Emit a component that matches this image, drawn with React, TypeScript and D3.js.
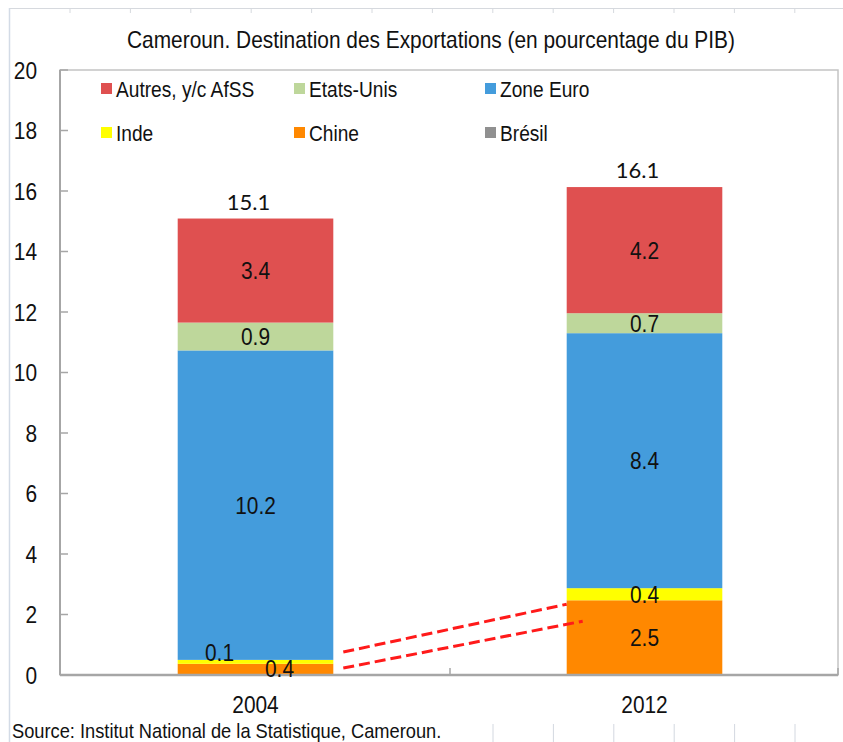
import React from "react";
import * as d3 from "d3";

const years = ["2004", "2012"];
const seriesKeys = ["Brésil", "Chine", "Inde", "Zone Euro", "Etats-Unis", "Autres, y/c AfSS"];
const bresil = [0, 0];
const chine = [0.37, 2.47];
const inde = [0.13, 0.4];
const zoneEuro = [10.23, 8.43];
const etatsUnis = [0.92, 0.66];
const autres = [3.44, 4.17];
const totalLabels = ["15.1", "16.1"];
const yTicks = [0, 2, 4, 6, 8, 10, 12, 14, 16, 18, 20];
const legendRows = [
  ["Autres, y/c AfSS", "Etats-Unis", "Zone Euro"],
  ["Inde", "Chine", "Brésil"],
];
const colors: Record<string, string> = {
  "Autres, y/c AfSS": "#DF5050",
  "Etats-Unis": "#BED79B",
  "Zone Euro": "#449CDC",
  Inde: "#FFFF00",
  Chine: "#FF8800",
  "Brésil": "#909090",
};
// dashed annotation lines: [value at 2004 side, value at 2012 side]
const arrowLines = [
  [0.76, 2.34],
  [0.23, 1.78],
];

const W = 843;
const H = 742;
const FONT = "'Liberation Sans', Arial, sans-serif";
const SX = 0.87;

function NText({
  x,
  y,
  size,
  anchor = "start",
  dy,
  children,
}: {
  x: number;
  y: number;
  size: number;
  anchor?: string;
  dy?: string;
  children: React.ReactNode;
}) {
  return (
    <text
      transform={`translate(${x},${y}) scale(${SX},1)`}
      x={0}
      y={0}
      dy={dy}
      textAnchor={anchor as any}
      fontFamily={FONT}
      fontSize={size}
      fill="#111"
    >
      {children}
    </text>
  );
}

export default function App() {
  const left = 60;
  const right = 838;
  const top = 70;
  const bottom = 675;

  const x = d3.scaleBand<string>().domain(years).range([left + 1, right + 1]).paddingInner(0.6).paddingOuter(0.3);
  const y = d3.scaleLinear().domain([0, 20]).range([bottom, top]);

  const table = years.map((yr, i) => ({
    year: yr,
    "Brésil": bresil[i],
    Chine: chine[i],
    Inde: inde[i],
    "Zone Euro": zoneEuro[i],
    "Etats-Unis": etatsUnis[i],
    "Autres, y/c AfSS": autres[i],
  }));
  const stacked = d3.stack<any>().keys(seriesKeys)(table);

  const labelOffset = (key: string, yr: string): [number, number] => {
    if (yr === "2004" && key === "Inde") return [-36, -9];
    if (yr === "2004" && key === "Chine") return [24, -1];
    return [0, 0];
  };

  const topDecoTicks = d3.range(13).map((i) => 70 + i * 60.4);
  const bottomDeco = d3.range(6).map((i) => 493 + i * 60.4);
  const legendX = [101, 294, 485];
  const legendY = [89, 133];

  const bw = x.bandwidth();

  return (
    <svg width={W} height={H} style={{ position: "absolute", left: 0, top: 0, background: "#fff" }}>
      <rect x={0} y={0} width={W} height={H} fill="#fff" />
      {/* decorative page borders */}
      <line x1={10} x2={W} y1={8.5} y2={8.5} stroke="#D6D9DE" strokeWidth={1} />
      <line x1={9.5} x2={9.5} y1={8} y2={H} stroke="#D3DBE6" strokeWidth={1.5} />
      {topDecoTicks.map((t, i) => (
        <line key={i} x1={t} x2={t} y1={8} y2={13} stroke="#D6D9DE" />
      ))}
      {bottomDeco.map((t, i) => (
        <line key={i} x1={t} x2={t} y1={724} y2={H} stroke="#D3D8E0" />
      ))}

      {/* title */}
      <NText x={431} y={48} size={24} anchor="middle">
        Cameroun. Destination des Exportations (en pourcentage du PIB)
      </NText>

      {/* plot frame */}
      <rect x={left} y={top} width={right - left} height={bottom - top} fill="none" stroke="#C4C4C4" strokeWidth={1.5} />

      {/* bars */}
      {stacked.map((s) =>
        s.map((d, i) => {
          const yr = years[i];
          const h = y(d[0]) - y(d[1]);
          if (h <= 0) return null;
          return <rect key={s.key + yr} x={x(yr)} y={y(d[1])} width={bw} height={h} fill={colors[s.key]} />;
        })
      )}

      {/* axes */}
      <line x1={left} x2={left} y1={top} y2={bottom} stroke="#A6A6A6" strokeWidth={2} />
      <line x1={left} x2={right} y1={bottom} y2={bottom} stroke="#A6A6A6" strokeWidth={2.5} />
      {yTicks.map((t) => (
        <g key={t}>
          <line x1={left} x2={left + 8} y1={y(t)} y2={y(t)} stroke="#A6A6A6" strokeWidth={1.5} />
          <NText x={37} y={y(t)} dy="0.36em" size={24} anchor="end">
            {t}
          </NText>
        </g>
      ))}
      {[left, (x("2004")! + x("2012")! + bw) / 2, right].map((t, i) => (
        <line key={i} x1={t} x2={t} y1={bottom} y2={bottom - 7} stroke="#A6A6A6" strokeWidth={1.5} />
      ))}
      {years.map((yr) => (
        <NText key={yr} x={x(yr)! + bw / 2} y={713} size={24} anchor="middle">
          {yr}
        </NText>
      ))}

      {/* segment labels */}
      {stacked.map((s) =>
        s.map((d, i) => {
          const yr = years[i];
          const v = d[1] - d[0];
          if (v <= 0) return null;
          const [dx, dy] = labelOffset(s.key, yr);
          return (
            <NText
              key={"l" + s.key + yr}
              x={x(yr)! + bw / 2 + dx}
              y={y((d[0] + d[1]) / 2) + dy}
              dy="0.36em"
              size={24}
              anchor="middle"
            >
              {v.toFixed(1)}
            </NText>
          );
        })
      )}

      {/* totals */}
      {years.map((yr, i) => {
        const last = stacked[stacked.length - 1][i][1];
        return (
          <text
            key={"t" + yr}
            x={x(yr)! + bw / 2 - 7}
            y={y(last) - 9}
            textAnchor="middle"
            fontFamily="Lato, 'Open Sans', sans-serif"
            fontSize={22}
            fill="#111"
          >
            {totalLabels[i]}
          </text>
        );
      })}

      {/* dashed annotation lines */}
      {arrowLines.map(([a, b], i) => (
        <line
          key={"a" + i}
          x1={x("2004")! + bw + 10}
          y1={y(a)}
          x2={x("2012")! + (i === 0 ? 0 : 16)}
          y2={y(b)}
          stroke="#FF1A1A"
          strokeWidth={3}
          strokeDasharray="11 5"
        />
      ))}

      {/* legend */}
      {legendRows.map((row, r) =>
        row.map((name, c) => (
          <g key={name}>
            <rect x={legendX[c]} y={legendY[r] - 6} width={11} height={11} fill={colors[name]} />
            <NText x={legendX[c] + 15} y={legendY[r]} dy="0.36em" size={22}>
              {name}
            </NText>
          </g>
        ))
      )}

      {/* source */}
      <NText x={12} y={737.5} size={21}>
        Source: Institut National de la Statistique, Cameroun.
      </NText>
    </svg>
  );
}
